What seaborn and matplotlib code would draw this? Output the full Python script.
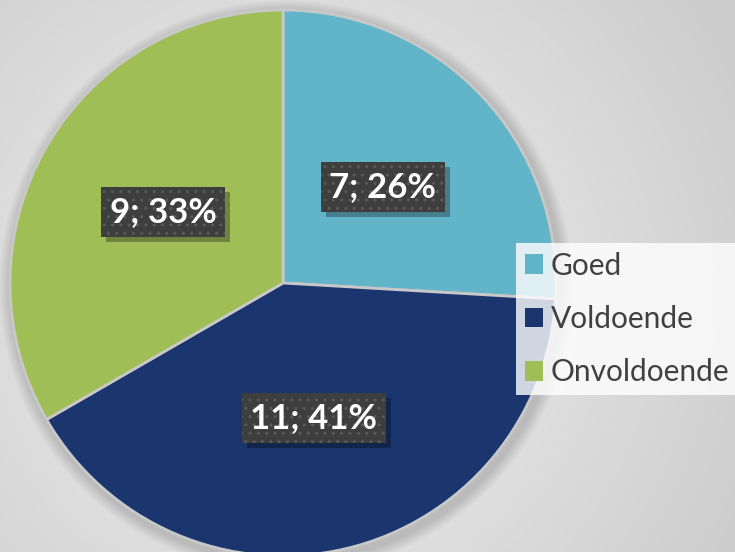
import numpy as np
import matplotlib
matplotlib.use("Agg")
import matplotlib.pyplot as plt
import seaborn as sns
from matplotlib.patches import Patch, Circle, Rectangle

categories = ["Goed", "Voldoende", "Onvoldoende"]
values = [7, 11, 9]
percent_labels = ["26%", "41%", "33%"]
colors = ["#62B4C9", "#1B366E", "#A0BE56"]

sns.set_theme(style="white")
plt.rcParams['font.family'] = ['Lato', 'DejaVu Sans']

W, H = 735, 552
fig = plt.figure(figsize=(W/100, H/100), dpi=100)
ax = fig.add_axes([0, 0, 1, 1])

# radial background gradient
yy, xx = np.mgrid[0:H, 0:W]
cx, cy = 290, 300
d = np.sqrt((xx - cx) ** 2 + (yy - cy) ** 2) / 520.0
d = np.clip(d, 0, 1)
light = np.array([0.95, 0.95, 0.95])
dark = np.array([0.80, 0.80, 0.80])
img = light[None, None, :] * (1 - d[..., None]) + dark[None, None, :] * d[..., None]
ax.imshow(img, extent=[0, W, 0, H], origin="upper", zorder=0)

center = (283, H - 283)
R = 273
# soft shadow
for i in range(12):
    ax.add_patch(Circle((center[0] + 3, center[1] - 4), R + 14 - i, color="black",
                        alpha=0.012, lw=0, zorder=1))

wedges, _ = ax.pie(values, colors=colors, startangle=90, counterclock=False,
                   center=center, radius=R,
                   wedgeprops=dict(edgecolor="#C8C8C8", linewidth=2))
for w in wedges:
    w.set_zorder(2)

ax.set_xlim(0, W)
ax.set_ylim(0, H)
ax.set_aspect("auto")
ax.axis("off")

label_pos = [(383, 187), (314, 418), (163, 212)]
texts = []
for v, p, (x, y) in zip(values, percent_labels, label_pos):
    txt = f"{v}; {p}"
    t = ax.text(x, H - y, txt, ha="center", va="center", fontsize=25,
                fontweight="bold", color="white", zorder=5,
                bbox=dict(boxstyle="square,pad=0.25", facecolor="#3E3E3E",
                          edgecolor="#5A5A5A", hatch="..", linewidth=0))
    texts.append(t)

fig.canvas.draw()
renderer = fig.canvas.get_renderer()
inv = ax.transData.inverted()
for t in texts:
    bb = t.get_bbox_patch().get_window_extent(renderer)
    (x0, y0), (x1, y1) = inv.transform([(bb.x0, bb.y0), (bb.x1, bb.y1)])
    ax.add_patch(Rectangle((x0 + 5, y0 - 5), x1 - x0, y1 - y0, facecolor="black",
                           alpha=0.3, lw=0, zorder=4))

handles = [Patch(facecolor=c, edgecolor="none") for c in colors]
leg = ax.legend(handles, categories, loc="center left",
                bbox_to_anchor=(516 / W, 1 - 398 / H, (W - 516) / W, 158 / H),
                bbox_transform=fig.transFigure, mode="expand",
                fontsize=21.5, frameon=True, fancybox=False, handlelength=0.62,
                handleheight=0.62, handletextpad=0.25, labelspacing=0.85,
                borderaxespad=0, borderpad=0.3)
leg.get_frame().set_facecolor((1, 1, 1, 0.45))
leg.get_frame().set_edgecolor("none")
for t in leg.get_texts():
    t.set_color("#404040")
leg.set_zorder(6)

fig.savefig("out.png", dpi=100)
